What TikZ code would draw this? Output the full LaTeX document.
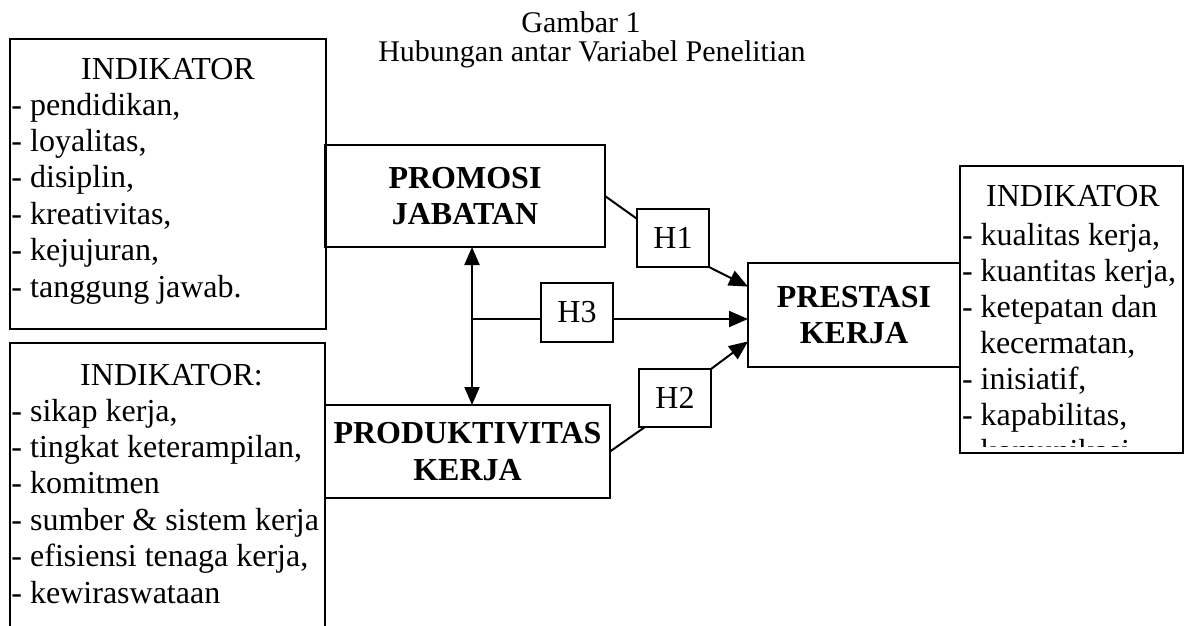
\documentclass[tikz,border=0pt]{standalone}
\usepackage{fontspec}
\setmainfont{Liberation Serif}
\usetikzlibrary{arrows.meta}
\begin{document}
\begin{tikzpicture}[x=1pt,y=-1pt,
  frame/.style={draw,line width=2.2pt,rectangle,inner sep=0pt,outer sep=0pt},
  box/.style={draw,line width=2pt,rectangle,inner sep=0pt,outer sep=0pt,align=center,font=\fontsize{32}{36.5}\selectfont\bfseries},
  hbox/.style={draw,line width=1.8pt,rectangle,inner sep=0pt,outer sep=0pt,font=\fontsize{32}{36}\selectfont},
  txt/.style={inner sep=0pt,outer sep=0pt,font=\fontsize{32}{36}\selectfont,anchor=base west},
  head/.style={inner sep=0pt,outer sep=0pt,font=\fontsize{32}{36}\selectfont,anchor=base},
  ttl/.style={inner sep=0pt,outer sep=0pt,font=\fontsize{30}{34}\selectfont,anchor=base},
  conn/.style={line width=2pt},
  arr/.style={line width=2pt,-{Triangle[length=19pt,width=16pt]}},
  darr/.style={line width=2pt,{Triangle[length=18pt,width=15pt]}-{Triangle[length=18pt,width=15pt]}}
]
\clip (0,0) rectangle (1184,626);
\fill[white] (0,0) rectangle (1184,626);

% title
\node[ttl] (t1) at (581,33) {Gambar 1};
\node[ttl] (t2) at (592,62) {Hubungan antar Variabel Penelitian};

% left indicator box 1
\node[frame,minimum width=316pt,minimum height=290pt] (L1) at (168,184) {};
\node[head] (L1h) at (168,80) {INDIKATOR};
\node[txt] (L1a) at (11.5,115) {- pendidikan,};
\node[txt] (L1b) at (11.5,151.4) {- loyalitas,};
\node[txt] (L1c) at (11.5,187.8) {- disiplin,};
\node[txt] (L1d) at (11.5,224.2) {- kreativitas,};
\node[txt] (L1e) at (11.5,260.6) {- kejujuran,};
\node[txt] (L1f) at (11.5,297) {- tanggung jawab.};

% left indicator box 2
\node[frame,minimum width=315pt,minimum height=314pt] (L2) at (167.5,500) {};
\node[head] (L2h) at (171.5,385) {INDIKATOR:};
\node[txt] (L2a) at (11.5,421) {- sikap kerja,};
\node[txt] (L2b) at (11.5,457.4) {- tingkat keterampilan,};
\node[txt] (L2c) at (11.5,493.8) {- komitmen};
\node[txt] (L2d) at (11.5,530.2) {- sumber \& sistem kerja};
\node[txt] (L2e) at (11.5,566.6) {- efisiensi tenaga kerja,};
\node[txt] (L2f) at (11.5,603) {- kewiraswataan};

% right indicator box
\node[frame,line width=2pt,minimum width=223pt,minimum height=287pt] (R) at (1071.5,309.5) {};
\begin{scope}
\clip (961,167) rectangle (1182,446);
\node[head] (Rh) at (1073,206) {INDIKATOR};
\node[txt] (Ra) at (962,245) {- kualitas kerja,};
\node[txt] (Rb) at (962,281) {- kuantitas kerja,};
\node[txt] (Rc) at (962,317) {- ketepatan dan};
\node[txt] (Rd) at (980,353) {kecermatan,};
\node[txt] (Re) at (962,389) {- inisiatif,};
\node[txt] (Rf) at (962,425) {- kapabilitas,};
\node[txt] (Rg) at (962,461) {- komunikasi.};
\end{scope}

% main variable boxes
\node[box,minimum width=280pt,minimum height=102pt] (promosi) at (465,196) {PROMOSI\\JABATAN};
\node[box,minimum width=285pt,minimum height=93pt] (produk) at (467.5,451.5) {PRODUKTIVITAS\\KERJA};
\node[box,minimum width=212pt,minimum height=104pt] (prestasi) at (854,315) {PRESTASI\\KERJA};

% hypothesis boxes
\node[hbox,minimum width=72pt,minimum height=58pt] (H1) at (673,238) {H1};
\node[hbox,minimum width=72pt,minimum height=59pt] (H3) at (577,312.5) {H3};
\node[hbox,minimum width=72pt,minimum height=58pt] (H2) at (675,398) {H2};

% connectors
\coordinate (j3) at (472,319);
\draw[darr] (j3 |- promosi.south) -- (j3 |- produk.north);
\draw[conn] (j3) -- (j3 -| H3.west);
\draw[arr] (j3 -| H3.east) -- (j3 -| prestasi.west);
\draw[conn] (promosi.east) -- (H1.152);
\draw[arr] (H1.south east) -- (prestasi.165);
\draw[conn] (produk.east) -- (H2.224);
\draw[arr] (H2.north east) -- (prestasi.194);
\end{tikzpicture}
\end{document}
